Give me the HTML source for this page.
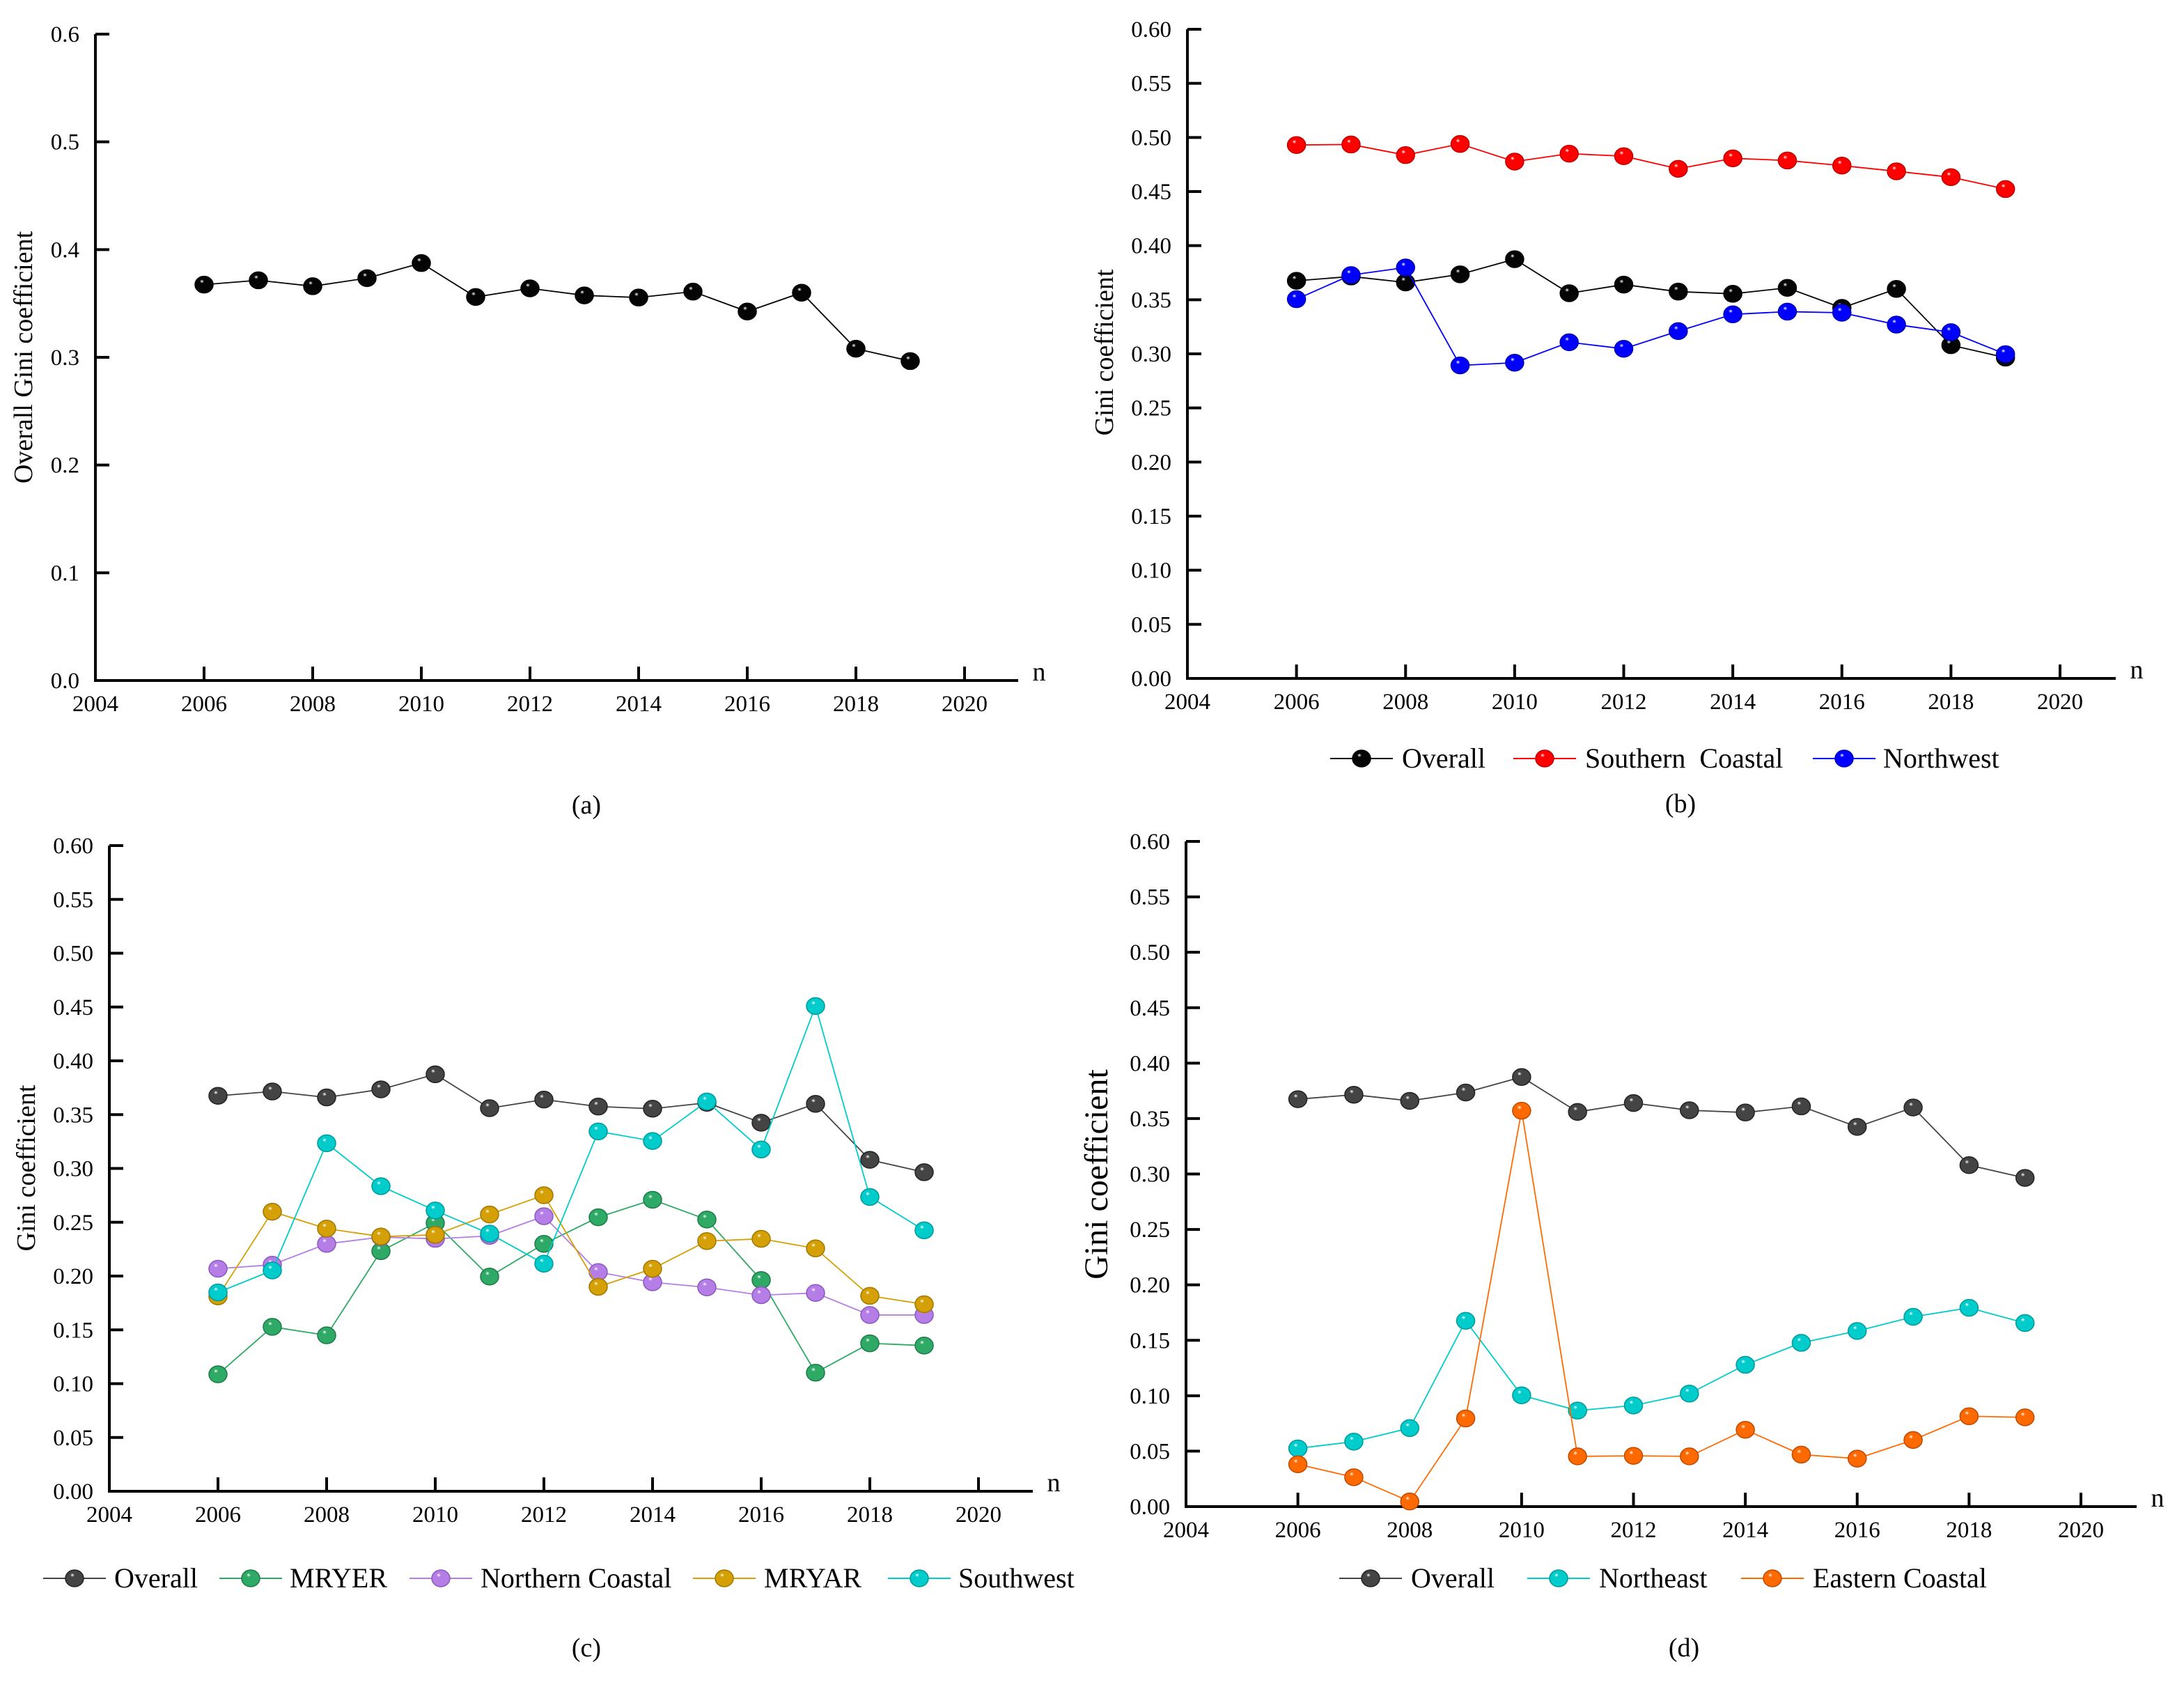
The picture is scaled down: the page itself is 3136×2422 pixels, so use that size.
<!DOCTYPE html>
<html><head><meta charset="utf-8">
<style>
html,body{margin:0;padding:0;background:#fff;}
svg{display:block;}
svg text{font-family:"Liberation Serif","Times New Roman",serif;white-space:pre;}
</style></head>
<body>
<svg id="fig" width="3136" height="2422" viewBox="0 0 3136 2422" xmlns="http://www.w3.org/2000/svg" font-family="Liberation Serif, serif">
<defs>
</defs>
</svg>
<script>
// ---- data ----
const years = [2006,2007,2008,2009,2010,2011,2012,2013,2014,2015,2016,2017,2018,2019];
const overall = [0.3675,0.3715,0.366,0.3735,0.3875,0.356,0.364,0.3575,0.3555,0.361,0.3425,0.36,0.308,0.2965];
const southernCoastal = [0.493,0.4935,0.4837,0.494,0.4777,0.485,0.4827,0.471,0.4807,0.4787,0.474,0.4687,0.4633,0.4523];
const northwest = [0.3505,0.3728,0.3798,0.2893,0.2918,0.3107,0.3047,0.321,0.3365,0.339,0.338,0.327,0.32,0.2997];
const mryer = [0.1087,0.1528,0.1449,0.2231,0.2493,0.1995,0.2299,0.2546,0.2709,0.2525,0.1963,0.1102,0.1375,0.1354];
const northernCoastal = [0.2068,0.2105,0.2299,0.2362,0.2346,0.2373,0.2556,0.2037,0.1942,0.1895,0.1822,0.1843,0.1638,0.1638];
const mryar = [0.1811,0.2598,0.2441,0.2367,0.2383,0.2572,0.2751,0.19,0.2068,0.2325,0.2346,0.2257,0.1816,0.1738];
const southwest = [0.1848,0.2052,0.3234,0.2835,0.2609,0.2394,0.2115,0.3344,0.3255,0.3622,0.3176,0.4509,0.2735,0.2425];
const northeast = [0.0525,0.0586,0.0708,0.1676,0.1004,0.0866,0.0912,0.1019,0.1279,0.1477,0.1584,0.1712,0.1793,0.1656];
const easternCoastal = [0.0382,0.0265,0.0046,0.0795,0.3571,0.0453,0.0458,0.0453,0.0693,0.0469,0.0433,0.0601,0.0815,0.0805];
const xTicks = [2004,2006,2008,2010,2012,2014,2016,2018,2020];
const yTicksA = [0,0.1,0.2,0.3,0.4,0.5,0.6];
const yTicksB = [0,0.05,0.1,0.15,0.2,0.25,0.3,0.35,0.4,0.45,0.5,0.55,0.6];

const NS="http://www.w3.org/2000/svg";
const svg=document.getElementById('fig');
const defs=svg.querySelector('defs');
const FONT='Liberation Serif, Times New Roman, serif';
function mk(tag,attrs,parent){const e=document.createElementNS(NS,tag);for(const k in attrs)e.setAttribute(k,attrs[k]);if(tag==='text')e.setAttribute('font-family',FONT);(parent||svg).appendChild(e);return e;}
const gradCache={};
function grad(color){
  if(gradCache[color])return gradCache[color];
  const id='g'+Object.keys(gradCache).length;
  const g=mk('radialGradient',{id:id,cx:'0.4',cy:'0.35',r:'0.65',fx:'0.38',fy:'0.3'},defs);
  mk('stop',{offset:'0','stop-color':'#ffffff'},g);
  mk('stop',{offset:'0.18','stop-color':color},g);
  mk('stop',{offset:'1','stop-color':color},g);
  gradCache[color]=id;return id;
}
function marker(parent,cx,cy,color,dark){
  const m=mk('ellipse',{cx:cx,cy:cy,rx:13,ry:12,fill:'url(#'+grad(color)+')',stroke:dark,'stroke-width':1.5},parent);
  
  
  return m;
}

function panel(cfg){
  const g=mk('g',{});
  
  
  const X=v=>cfg.x0+(v-2004)/16*(cfg.x1-cfg.x0);
  const Y=v=>cfg.y0-(v/0.6)*(cfg.y0-cfg.yTop);
  const ya=mk('line',{x1:cfg.x0,y1:cfg.yTop,x2:cfg.x0,y2:cfg.y0+2,stroke:'#000','stroke-width':4},g);
  
  const xa=mk('line',{x1:cfg.x0-2,y1:cfg.y0,x2:cfg.xEnd,y2:cfg.y0,stroke:'#000','stroke-width':4},g);
  
  cfg.yTicks.forEach(t=>{
    const y=Y(t);
    mk('line',{x1:cfg.x0,y1:y,x2:cfg.x0+20,y2:y,stroke:'#000','stroke-width':4},g);
    const tx=mk('text',{x:cfg.x0-23,y:y+11,'font-size':33,'text-anchor':'end'},g);
    tx.textContent=t.toFixed(cfg.dec);
    
  });
  xTicks.forEach(t=>{
    const x=X(t);
    if(t!==2004)mk('line',{x1:x,y1:cfg.y0,x2:x,y2:cfg.y0-20,stroke:'#000','stroke-width':4},g);
    const tx=mk('text',{x:x,y:cfg.y0+44,'font-size':33,'text-anchor':'middle'},g);
    tx.textContent=t;
    
  });
  const n=mk('text',{x:cfg.xEnd+30,y:cfg.y0,'font-size':38,'text-anchor':'middle'},g);
  n.textContent='n';
  const yl=mk('text',{x:cfg.ylx,y:cfg.yly,'font-size':cfg.ylSize,'text-anchor':'middle',transform:'rotate(-90 '+cfg.ylx+' '+cfg.yly+')'},g);
  yl.textContent=cfg.ylabel;
  const cap=mk('text',{x:cfg.capX,y:cfg.capY,'font-size':38,'text-anchor':'middle'},g);
  cap.textContent=cfg.caption;
  cfg.series.forEach(s=>{
    const sg=mk('g',{},g);
    
    
    const pts=years.map((yr,i)=>X(yr)+','+Y(s.data[i])).join(' ');
    const pl=mk('polyline',{points:pts,fill:'none',stroke:s.color,'stroke-width':1.8},sg);
    
    years.forEach((yr,i)=>marker(sg,X(yr),Y(s.data[i]),s.color,s.dark));
  });
  if(cfg.legend){
    cfg.series.forEach((s,i)=>{
      const L=cfg.legend[i];
      const lg=mk('g',{},g);
      
      
      mk('line',{x1:L.m-45,y1:cfg.legY,x2:L.m+45,y2:cfg.legY,stroke:s.color,'stroke-width':2},lg);
      marker(lg,L.m,cfg.legY,s.color,s.dark);
      const t=mk('text',{x:L.t,y:cfg.legY+13,'font-size':40},lg);
      t.textContent=s.label;
    });
  }
}

const black='#050505', grey='#444444';
panel({name:'panel-a',x0:137,x1:1385,xEnd:1462,yTop:49,y0:977,yTicks:yTicksA,dec:1,
  ylabel:'Overall Gini coefficient',ylx:46,yly:513,ylSize:38,caption:'(a)',capX:842,capY:1168,
  series:[{key:'overall',label:'Overall',data:overall,color:black,dark:'#000'}]});
panel({name:'panel-b',x0:1705,x1:2958,xEnd:3038,yTop:42,y0:974,yTicks:yTicksB,dec:2,
  ylabel:'Gini coefficient',ylx:1598,yly:506,ylSize:38,caption:'(b)',capX:2413,capY:1166,legY:1089,
  series:[{key:'overall',label:'Overall',data:overall,color:black,dark:'#000'},
          {key:'southern-coastal',label:'Southern  Coastal',data:southernCoastal,color:'#ff0000',dark:'#c00000'},
          {key:'northwest',label:'Northwest',data:northwest,color:'#0000ff',dark:'#0000b0'}],
  legend:[{m:1955,t:2013},{m:2218,t:2276},{m:2648,t:2704}]});
panel({name:'panel-c',x0:157,x1:1405,xEnd:1483,yTop:1214,y0:2141,yTicks:yTicksB,dec:2,
  ylabel:'Gini coefficient',ylx:50,yly:1677,ylSize:38,caption:'(c)',capX:842,capY:2378,legY:2266,
  series:[{key:'overall',label:'Overall',data:overall,color:grey,dark:'#222'},
          {key:'mryer',label:'MRYER',data:mryer,color:'#2eaa66',dark:'#1d7a48'},
          {key:'northern-coastal',label:'Northern Coastal',data:northernCoastal,color:'#b57ee6',dark:'#8a58c0'},
          {key:'mryar',label:'MRYAR',data:mryar,color:'#d4a006',dark:'#a07800'},
          {key:'southwest',label:'Southwest',data:southwest,color:'#00cccc',dark:'#009a9a'}],
  legend:[{m:107,t:164},{m:360,t:416},{m:633,t:690},{m:1040,t:1097},{m:1320,t:1376}]});
panel({name:'panel-d',x0:1703,x1:2988,xEnd:3068,yTop:1208,y0:2163,yTicks:yTicksB,dec:2,
  ylabel:'Gini coefficient',ylx:1590,yly:1686,ylSize:48,caption:'(d)',capX:2418,capY:2378,legY:2266,
  series:[{key:'overall',label:'Overall',data:overall,color:grey,dark:'#222'},
          {key:'northeast',label:'Northeast',data:northeast,color:'#00cccc',dark:'#009a9a'},
          {key:'eastern-coastal',label:'Eastern Coastal',data:easternCoastal,color:'#ff6a00',dark:'#c04800'}],
  legend:[{m:1968,t:2026},{m:2238,t:2296},{m:2545,t:2603}]});
</script>
</body></html>
